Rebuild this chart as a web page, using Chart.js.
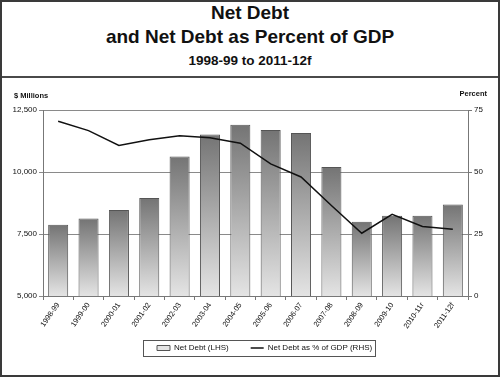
<!DOCTYPE html>
<html>
<head>
<meta charset="utf-8">
<script src="https://cdn.jsdelivr.net/npm/chart.js@4"></script>
<style>
  body { margin: 0; background: #fff; font-family: "Liberation Sans", Arial, sans-serif; }
  #frame { position: absolute; left: 0; top: 0; width: 500px; height: 377px; box-sizing: border-box; border: 2px solid #3a3a3a; }
  #head { position: absolute; left: 0; top: 0; width: 496px; height: 74px; border-bottom: 2px solid #4a4a4a; text-align: center; color: #111; font-weight: bold; }
  #t1 { position: absolute; top: 0px; width: 100%; font-size: 19px; }
  #t2 { position: absolute; top: 24px; width: 100%; font-size: 19px; }
  #t3 { position: absolute; top: 51px; width: 100%; font-size: 13.5px; }
  #wrap { position: absolute; left: 0; top: 76px; width: 496px; height: 297px; }
</style>
</head>
<body>
<div id="frame">
  <div id="head">
    <div id="t1">Net Debt</div>
    <div id="t2">and Net Debt as Percent of GDP</div>
    <div id="t3">1998-99 to 2011-12f</div>
  </div>
  <div id="wrap"><canvas id="debtChart" width="496" height="297"></canvas></div>
</div>
<script>
(() => {
  const years = ['1998-99', '1999-00', '2000-01', '2001-02', '2002-03', '2003-04', '2004-05',
    '2005-06', '2006-07', '2007-08', '2008-09', '2009-10', '2010-11r', '2011-12f'];
  const netDebt = [7870, 8120, 8470, 8950, 10630, 11510, 11910, 11690, 11570, 10200, 7990, 8240, 8240, 8690];
  const debtPctGdp = [70.5, 66.7, 60.7, 63.0, 64.6, 63.8, 61.6, 53.3, 48.0, 36.5, 25.3, 32.9, 28.0, 26.9];

  const font = { family: '"Liberation Sans", Arial, sans-serif', size: 8 };

  const barFill = (c) => {
    const chart = c.chart;
    if (!chart.chartArea || c.type !== 'data') return '#c4c4c4';
    const y = chart.scales.y;
    const top = y.getPixelForValue(c.raw);
    const base = y.getPixelForValue(y.min);
    const g = chart.ctx.createLinearGradient(0, top, 0, base);
    g.addColorStop(0, '#747474');
    g.addColorStop(1, '#e4e4e4');
    return g;
  };

  // axis captions, legend placement and the box round the legend
  const extras = {
    id: 'extras',
    afterUpdate(chart) {
      const lg = chart.legend;
      const hb = lg.legendHitBoxes;
      if (!hb || !hb.length) return;
      const shift = 155 - hb[0].left;
      lg.left += shift;
      lg.right += shift;
      hb.forEach(h => { h.left += shift; });
    },
    afterDraw(chart) {
      const ctx = chart.ctx;
      ctx.save();
      ctx.fillStyle = '#111';
      ctx.font = 'bold 7.5px "Liberation Sans", Arial, sans-serif';
      ctx.textBaseline = 'middle';
      ctx.textAlign = 'left';
      ctx.fillText('$ Millions', 12, 18);
      ctx.textAlign = 'right';
      ctx.fillText('Percent', 485, 16);
      const hb = chart.legend.legendHitBoxes;
      if (hb && hb.length) {
        const first = hb[0], last = hb[hb.length - 1];
        ctx.strokeStyle = '#555';
        ctx.lineWidth = 1;
        const x0 = Math.round(first.left - 14) + 0.5;
        const x1 = Math.round(last.left + last.width + 3) + 0.5;
        const y0 = Math.round(first.top - 4) + 0.5;
        const y1 = Math.round(first.top + first.height + 4) + 0.5;
        ctx.strokeRect(x0, y0, x1 - x0, y1 - y0);
      }
      ctx.restore();
    }
  };

  new Chart(document.getElementById('debtChart'), {
    data: {
      labels: years,
      datasets: [
        {
          type: 'line', label: 'Net Debt as % of GDP (RHS)', data: debtPctGdp, yAxisID: 'y1',
          borderColor: '#111', backgroundColor: '#111', borderWidth: 1.5, pointRadius: 0, tension: 0,
          pointStyle: 'line', order: 0
        },
        {
          type: 'bar', label: 'Net Debt (LHS)', data: netDebt, yAxisID: 'y',
          backgroundColor: barFill, borderColor: '#555', borderWidth: 1,
          barPercentage: 0.66, categoryPercentage: 1, pointStyle: 'rect', order: 1
        }
      ]
    },
    options: {
      responsive: false,
      animation: false,
      layout: { padding: { top: 32, left: 0, right: 0, bottom: 13 } },
      scales: {
        x: {
          grid: { drawOnChartArea: false, offset: true, tickLength: 4, color: '#777' },
          border: { color: '#777' },
          ticks: { font: { ...font, size: 7.5 }, color: '#111', minRotation: 55, maxRotation: 55, padding: 1, autoSkip: false },
          afterFit: (s) => { s.height = 42; }
        },
        y: {
          position: 'left', min: 5000, max: 12500,
          grid: { color: '#8a8a8a', tickLength: 4 },
          border: { color: '#777' },
          ticks: { stepSize: 2500, font, color: '#111', padding: 2 },
          afterFit: (s) => { s.width = 41; }
        },
        y1: {
          position: 'right', min: 0, max: 75,
          grid: { drawOnChartArea: false, color: '#777', tickLength: 4 },
          border: { color: '#777' },
          ticks: { stepSize: 25, font, color: '#111', padding: 2 },
          afterFit: (s) => { s.width = 30; }
        }
      },
      plugins: {
        tooltip: { enabled: false },
        legend: {
          position: 'bottom',
          reverse: true,
          labels: {
            usePointStyle: true, pointStyleWidth: 13, boxHeight: 5, padding: 6,
            font: { ...font, size: 8 }, color: '#111',
            generateLabels: (chart) => {
              const items = Chart.defaults.plugins.legend.labels.generateLabels(chart);
              items.forEach(it => { if (it.datasetIndex === 1) it.text += '\u2003\u2003'; });
              return items;
            }
          }
        }
      }
    },
    plugins: [extras]
  });
})();
</script>
</body>
</html>
